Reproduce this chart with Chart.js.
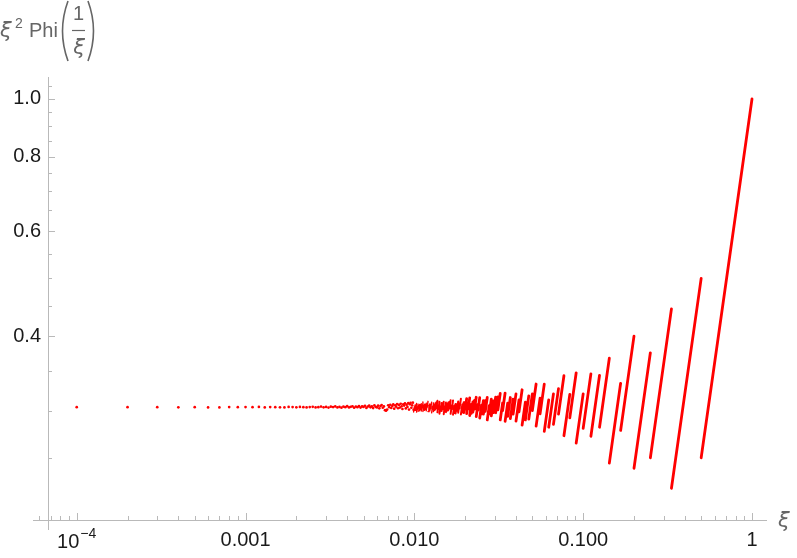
<!DOCTYPE html>
<html>
<head>
<meta charset="utf-8">
<script src="https://cdn.jsdelivr.net/npm/chart.js@4.4.0/dist/chart.umd.min.js"></script>
<style>
  html, body { margin: 0; padding: 0; background: #fff; }
</style>
</head>
<body>
<canvas id="plot" width="797" height="558"></canvas>
<script>
// ξ = k/10000 for small ξ: separate dots sitting near 3/π²
const dotX = [
  0.0001, 0.0002, 0.0003, 0.0004, 0.0005, 0.0006, 0.0007, 0.0008, 0.0009, 0.0010,
  0.0011, 0.0012, 0.0013, 0.0014, 0.0015, 0.0016, 0.0017, 0.0018, 0.0019, 0.0020,
  0.0021, 0.0022, 0.0023, 0.0024, 0.0025, 0.0026, 0.0027, 0.0028, 0.0029, 0.0030,
  0.0031, 0.0032, 0.0033, 0.0034, 0.0035, 0.0036, 0.0037, 0.0038, 0.0039, 0.0040,
  0.0041, 0.0042, 0.0043, 0.0044, 0.0045, 0.0046, 0.0047, 0.0048, 0.0049, 0.0050,
  0.0051, 0.0052, 0.0053, 0.0054, 0.0055, 0.0056, 0.0057, 0.0058, 0.0059, 0.0060,
  0.0061, 0.0062, 0.0063, 0.0064, 0.0065, 0.0066, 0.0067, 0.0068, 0.0069, 0.0070,
  0.0071, 0.0072, 0.0073, 0.0074, 0.0075, 0.0076, 0.0077, 0.0078, 0.0079, 0.0080,
  0.0081, 0.0082, 0.0083, 0.0084, 0.0085, 0.0086, 0.0087, 0.0088, 0.0089, 0.0090,
  0.0091, 0.0092, 0.0093, 0.0094, 0.0095, 0.0096, 0.0097, 0.0098, 0.0099
];
const dotY = [
  0.3040, 0.3039, 0.3040, 0.3038, 0.3040, 0.3036, 0.3037, 0.3041, 0.3040, 0.3041,
  0.3040, 0.3042, 0.3036, 0.3041, 0.3039, 0.3038, 0.3037, 0.3042, 0.3041, 0.3038,
  0.3043, 0.3039, 0.3036, 0.3041, 0.3044, 0.3037, 0.3040, 0.3046, 0.3038, 0.3042,
  0.3035, 0.3045, 0.3041, 0.3048, 0.3037, 0.3043, 0.3034, 0.3047, 0.3040, 0.3051,
  0.3036, 0.3044, 0.3049, 0.3033, 0.3046, 0.3040, 0.3053, 0.3035, 0.3048, 0.3042,
  0.3055, 0.3031, 0.3047, 0.3058, 0.3038, 0.3050, 0.3029, 0.3060, 0.3044, 0.3036,
  0.3057, 0.3026, 0.3052, 0.3064, 0.3033, 0.3048, 0.3005, 0.2998, 0.3012, 0.3062,
  0.3040, 0.3068, 0.3030, 0.3054, 0.3072, 0.3022, 0.3061, 0.3045, 0.3076, 0.3027,
  0.3066, 0.3035, 0.3080, 0.3050, 0.3018, 0.3073, 0.3058, 0.3084, 0.3025, 0.3069,
  0.3042, 0.3088, 0.3012, 0.3075, 0.3090, 0.3033, 0.3061, 0.3093, 0.3008
];

// break points 1/n, n = 1..101 ; piece n runs from xBreaks[n] up to xBreaks[n-1]
const xBreaks = [
  1, 0.5, 0.33333, 0.25, 0.2, 0.16667, 0.14286, 0.125, 0.11111, 0.1,
  0.090909, 0.083333, 0.076923, 0.071429, 0.066667, 0.0625, 0.058824, 0.055556, 0.052632, 0.05,
  0.047619, 0.045455, 0.043478, 0.041667, 0.04, 0.038462, 0.037037, 0.035714, 0.034483, 0.033333,
  0.032258, 0.03125, 0.030303, 0.029412, 0.028571, 0.027778, 0.027027, 0.026316, 0.025641, 0.025,
  0.02439, 0.02381, 0.023256, 0.022727, 0.022222, 0.021739, 0.021277, 0.020833, 0.020408, 0.02,
  0.019608, 0.019231, 0.018868, 0.018519, 0.018182, 0.017857, 0.017544, 0.017241, 0.016949, 0.016667,
  0.016393, 0.016129, 0.015873, 0.015625, 0.015385, 0.015152, 0.014925, 0.014706, 0.014493, 0.014286,
  0.014085, 0.013889, 0.013699, 0.013514, 0.013333, 0.013158, 0.012987, 0.012821, 0.012658, 0.0125,
  0.012346, 0.012195, 0.012048, 0.011905, 0.011765, 0.011628, 0.011494, 0.011364, 0.011236, 0.011111,
  0.010989, 0.01087, 0.010753, 0.010638, 0.010526, 0.010417, 0.010309, 0.010204, 0.010101, 0.01,
  0.009901
];
// value at the top (right) end of each piece
const segHigh = [
  1, 0.5, 0.4444, 0.375, 0.4, 0.3333, 0.3673, 0.3438, 0.3457, 0.32,
  0.3471, 0.3194, 0.3432, 0.3265, 0.32, 0.3125, 0.3322, 0.3148, 0.3324, 0.32,
  0.3175, 0.3099, 0.3251, 0.3125, 0.32, 0.3136, 0.3155, 0.3087, 0.321, 0.3089,
  0.3205, 0.3164, 0.3159, 0.3114, 0.3135, 0.3056, 0.3156, 0.3116, 0.3116, 0.3063,
  0.3153, 0.3073, 0.3158, 0.312, 0.3101, 0.3072, 0.3151, 0.309, 0.314, 0.3096,
  0.3099, 0.307, 0.314, 0.3086, 0.3107, 0.3074, 0.3078, 0.3056, 0.312, 0.3061,
  0.3123, 0.3101, 0.3094, 0.3076, 0.3096, 0.3049, 0.3105, 0.3084, 0.3088, 0.3049,
  0.3103, 0.3063, 0.3115, 0.3097, 0.3086, 0.3068, 0.309, 0.3051, 0.3099, 0.3072,
  0.3079, 0.3064, 0.3109, 0.307, 0.3087, 0.3072, 0.3076, 0.3058, 0.3101, 0.3062,
  0.3082, 0.3067, 0.3071, 0.3058, 0.3074, 0.3045, 0.3084, 0.3065, 0.3065, 0.3044
];
// value at the bottom (left) end of each piece
const segLow = [
  0.25, 0.2222, 0.25, 0.24, 0.2778, 0.2449, 0.2813, 0.2716, 0.28, 0.2645,
  0.2917, 0.2722, 0.2959, 0.2844, 0.2813, 0.2768, 0.2963, 0.2825, 0.3, 0.2902,
  0.2893, 0.2836, 0.2986, 0.288, 0.2959, 0.2908, 0.2934, 0.2878, 0.3, 0.2893,
  0.3008, 0.2975, 0.2976, 0.2939, 0.2963, 0.2893, 0.2992, 0.2959, 0.2963, 0.2915,
  0.3005, 0.2931, 0.3017, 0.2983, 0.2968, 0.2943, 0.3021, 0.2965, 0.3016, 0.2976,
  0.2981, 0.2955, 0.3025, 0.2975, 0.2997, 0.2967, 0.2973, 0.2953, 0.3017, 0.2962,
  0.3023, 0.3003, 0.2998, 0.2982, 0.3003, 0.2958, 0.3015, 0.2995, 0.3, 0.2964,
  0.3017, 0.298, 0.3031, 0.3015, 0.3006, 0.2989, 0.3011, 0.2974, 0.3022, 0.2996,
  0.3004, 0.299, 0.3036, 0.2998, 0.3015, 0.3002, 0.3006, 0.299, 0.3032, 0.2995,
  0.3015, 0.3002, 0.3006, 0.2994, 0.301, 0.2982, 0.3022, 0.3004, 0.3004, 0.2984
];

// ticks
const xTickValues = [0.0001, 0.001, 0.01, 0.1, 1];
const xTickLabels = ["", "0.001", "0.010", "0.100", "1"];
const yTickValues = [0.4, 0.6, 0.8, 1.0];
const yTickLabels = ["0.4", "0.6", "0.8", "1.0"];
const yMinorTicks = [0.25, 0.3, 0.35, 0.45, 0.5, 0.55, 0.65, 0.7, 0.75, 0.85, 0.9, 0.95, 1.05];

// where the axes cross, and how far the horizontal axis runs to the left
const axisAtX = 6.76e-5;
const axisAtY = 0.1966;
const xAxisStart = 5.51e-5;

const RED = "#ff0000";
const AXIS = "#b9b9b9";
const FONT = '"Liberation Sans", Arial, sans-serif';
const GREEK = '"DejaVu Sans", sans-serif';

function pieces(from, to) {
  const pts = [];
  for (let i = from; i < to; i++) {
    pts.push({ x: xBreaks[i + 1], y: segLow[i] });
    pts.push({ x: xBreaks[i], y: segHigh[i] });
    pts.push({ x: xBreaks[i], y: null });
  }
  return pts;
}

function xMinorTicks() {
  const out = [6e-5, 7e-5, 8e-5, 9e-5];
  [1e-4, 1e-3, 1e-2, 1e-1].forEach(d => {
    for (let m = 2; m <= 9; m++) out.push(m * d);
  });
  return out;
}

const mmaAxes = {
  id: "mmaAxes",
  beforeDatasetsDraw(chart) {
    const { ctx, chartArea: a, scales: { x, y } } = chart;
    const ax = Math.round(x.getPixelForValue(axisAtX));
    const ay = Math.round(y.getPixelForValue(axisAtY));
    ctx.save();
    ctx.strokeStyle = AXIS;
    ctx.lineWidth = 1;
    ctx.beginPath();
    ctx.moveTo(x.getPixelForValue(xAxisStart), ay + 0.5);
    ctx.lineTo(a.right, ay + 0.5);
    ctx.moveTo(ax + 0.5, a.top);
    ctx.lineTo(ax + 0.5, a.bottom);
    // x ticks, pointing up
    xTickValues.forEach(v => {
      const px = Math.round(x.getPixelForValue(v)) + 0.5;
      ctx.moveTo(px, ay); ctx.lineTo(px, ay - 7);
    });
    xMinorTicks().forEach(v => {
      const px = Math.round(x.getPixelForValue(v)) + 0.5;
      ctx.moveTo(px, ay); ctx.lineTo(px, ay - 4);
    });
    // y ticks, pointing right
    yTickValues.forEach(v => {
      const py = Math.round(y.getPixelForValue(v)) + 0.5;
      ctx.moveTo(ax, py); ctx.lineTo(ax + 7, py);
    });
    yMinorTicks.forEach(v => {
      const py = Math.round(y.getPixelForValue(v)) + 0.5;
      ctx.moveTo(ax, py); ctx.lineTo(ax + 4, py);
    });
    ctx.stroke();
    ctx.restore();
  },
  afterDraw(chart) {
    const { ctx, scales: { x } } = chart;
    ctx.save();
    // 10^-4 tick label
    const px = x.getPixelForValue(0.0001);
    ctx.fillStyle = "#1a1a1a";
    ctx.textBaseline = "alphabetic";
    ctx.font = "20px " + FONT;
    const w10 = ctx.measureText("10").width;
    ctx.font = "14px " + FONT;
    const wExp = ctx.measureText("\u22124").width;
    const left = px - (w10 + 1 + wExp) / 2;
    ctx.font = "20px " + FONT;
    ctx.fillText("10", left, 548);
    ctx.font = "14px " + FONT;
    ctx.fillText("\u22124", left + w10 + 1, 538);

    // axis labels
    ctx.fillStyle = "#666666";
    ctx.font = "oblique 21px " + GREEK;
    ctx.fillText("\u03be", 778, 527);

    ctx.fillText("\u03be", 0, 37);
    ctx.font = "14px " + FONT;
    ctx.fillText("2", 15, 28);
    ctx.font = "20px " + FONT;
    ctx.fillText("Phi", 29, 37);
    ctx.textAlign = "center";
    ctx.fillText("1", 78.5, 20);
    ctx.font = "oblique 21px " + GREEK;
    ctx.fillText("\u03be", 79, 54);
    ctx.strokeStyle = "#666666";
    ctx.lineWidth = 1.2;
    ctx.beginPath();
    ctx.moveTo(72, 30.5); ctx.lineTo(85, 30.5);
    ctx.stroke();
    ctx.lineWidth = 1.6;
    ctx.beginPath();
    ctx.moveTo(68, 1);
    ctx.quadraticCurveTo(57, 31, 68, 61);
    ctx.moveTo(88, 1);
    ctx.quadraticCurveTo(99, 31, 88, 61);
    ctx.stroke();
    ctx.restore();
  }
};

const dots = dotX.map((v, i) => ({ x: v, y: dotY[i] }));

function pieceSet(label, from, to, width) {
  return {
    label: label,
    data: pieces(from, to),
    showLine: true,
    spanGaps: false,
    borderColor: RED,
    borderWidth: width,
    borderCapStyle: "round",
    pointRadius: 0
  };
}

new Chart(document.getElementById("plot"), {
  type: "scatter",
  data: {
    datasets: [
      {
        label: "dots",
        data: dots,
        backgroundColor: RED,
        borderWidth: 0,
        pointRadius: 1.35,
        pointHoverRadius: 1.35
      },
      pieceSet("long pieces", 0, 50, 2.8),
      pieceSet("mid pieces", 50, 75, 2.0),
      pieceSet("short pieces", 75, 100, 1.4)
    ]
  },
  options: {
    responsive: false,
    animation: false,
    devicePixelRatio: 1,
    layout: { padding: { top: 77, right: 30, left: 0, bottom: 0 } },
    plugins: {
      legend: { display: false },
      tooltip: { enabled: false }
    },
    scales: {
      x: {
        type: "logarithmic",
        min: 6.76e-5,
        max: 1.2271,
        grid: { display: false, drawTicks: false },
        border: { display: false },
        afterBuildTicks: s => { s.ticks = xTickValues.map(v => ({ value: v })); },
        afterFit: s => { s.height = 28; },
        ticks: {
          autoSkip: false,
          maxRotation: 0,
          padding: -2,
          color: "#1a1a1a",
          font: { family: FONT, size: 20 },
          callback: (v, i) => xTickLabels[i]
        }
      },
      y: {
        type: "logarithmic",
        min: 0.1891,
        max: 1.0886,
        grid: { display: false, drawTicks: false },
        border: { display: false },
        afterBuildTicks: s => { s.ticks = yTickValues.map(v => ({ value: v })); },
        afterFit: s => { s.width = 48; },
        ticks: {
          autoSkip: false,
          padding: 7,
          color: "#1a1a1a",
          font: { family: FONT, size: 20 },
          callback: (v, i) => yTickLabels[i]
        }
      }
    }
  },
  plugins: [mmaAxes]
});
</script>
</body>
</html>
